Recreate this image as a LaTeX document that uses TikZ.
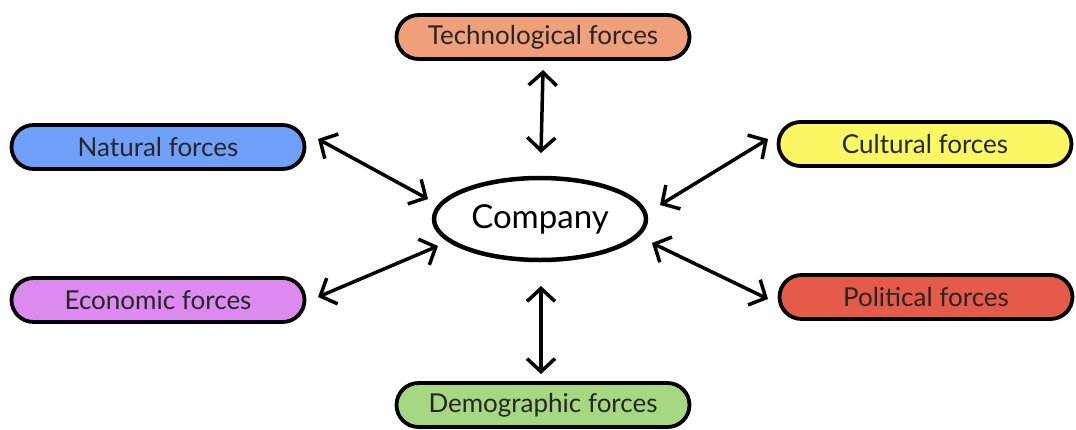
\documentclass[tikz,border=0pt]{standalone}
\usepackage{fontspec}
\setmainfont{Lato}
\usetikzlibrary{arrows.meta,shapes.geometric}
\definecolor{techc}{HTML}{EFA07A}
\definecolor{natc}{HTML}{6FA0FA}
\definecolor{cultc}{HTML}{FBF763}
\definecolor{econc}{HTML}{DC8AF0}
\definecolor{polc}{HTML}{E55A48}
\definecolor{democ}{HTML}{A6D882}
\tikzset{
  force/.style={draw=black, line width=3.8pt, rounded corners=22pt, minimum width=293pt, minimum height=44pt, inner sep=0pt, font=\fontsize{26}{30}\selectfont, text=black!85},
  link/.style={line width=3.5pt, {Straight Barb[length=13pt,width=28pt,line width=3.5pt]}-{Straight Barb[length=13pt,width=28pt,line width=3.5pt]}}
}
\begin{document}
\begin{tikzpicture}[x=1pt,y=-1pt]
\useasboundingbox (0,0) rectangle (1076,429);
\node[force, fill=techc] (tech) at (543,37) {Technological forces};
\node[force, fill=natc] (nat) at (158,147) {Natural forces};
\node[force, fill=cultc] (cult) at (925,144) {Cultural forces};
\node[force, fill=econc] (econ) at (158,300) {Economic forces};
\node[force, fill=polc] (pol) at (926,297) {Political forces};
\node[force, fill=democ] (demo) at (543,405) {Demographic forces};
\node[draw=black, line width=4.5pt, ellipse, minimum width=212pt, minimum height=82pt, inner sep=0pt, font=\fontsize{33}{38}\selectfont] (comp) at (540,219) {Company};
\coordinate (t1) at (543,70); \coordinate (t2) at (541,153);
\coordinate (n1) at (318,139); \coordinate (n2) at (428,199);
\coordinate (e1) at (318,297); \coordinate (e2) at (438,246);
\coordinate (c1) at (768,139); \coordinate (c2) at (660,205);
\coordinate (p1) at (652,243); \coordinate (p2) at (768,299);
\coordinate (d1) at (541,286); \coordinate (d2) at (541,374);
\draw[link] (t1) -- (t2);
\draw[link] (n1) -- (n2);
\draw[link] (e1) -- (e2);
\draw[link] (c1) -- (c2);
\draw[link] (p1) -- (p2);
\draw[link] (d1) -- (d2);
\end{tikzpicture}
\end{document}
